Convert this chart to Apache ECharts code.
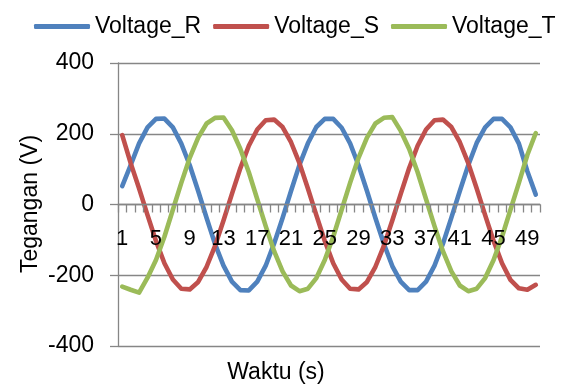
<!DOCTYPE html>
<html>
<head>
<meta charset="utf-8">
<script src="https://cdn.jsdelivr.net/npm/echarts@6/dist/echarts.min.js"></script>
<style>
html,body{margin:0;padding:0;background:#fff;}
#c{width:567px;height:385px;}
</style>
</head>
<body>
<div id="c"></div>
<script>
var categories = ["1","2","3","4","5","6","7","8","9","10","11","12","13","14","15","16","17","18","19","20","21","22","23","24","25","26","27","28","29","30","31","32","33","34","35","36","37","38","39","40","41","42","43","44","45","46","47","48","49","50"];
var voltageR = [52,111,173,218,242,243,218,172,111,38,-38,-112,-173,-218,-242,-243,-218,-173,-110,-38,38,112,173,219,242,242,217,173,111,38,-38,-111,-174,-218,-242,-242,-218,-173,-111,-37,38,111,174,218,242,242,218,172,94,28];
var voltageS = [196,117,45,-30,-103,-166,-212,-238,-240,-219,-176,-117,-45,30,103,166,212,238,240,219,176,117,45,-30,-103,-166,-212,-238,-240,-219,-176,-117,-45,30,103,166,212,238,240,219,176,117,45,-30,-103,-166,-213,-237,-241,-227];
var voltageT = [-232,-241,-249,-207,-157,-91,-15,61,132,189,229,245,246,210,157,91,15,-61,-132,-189,-229,-245,-238,-208,-157,-91,-15,61,132,189,229,245,247,208,157,91,15,-61,-132,-189,-229,-245,-238,-208,-157,-91,-15,61,140,202];
var yTicks = {min:-400, max:400, step:200};
var seriesNames = ["Voltage_R","Voltage_S","Voltage_T"];
var xTitle = "Waktu (s)";
var yTitle = "Tegangan (V)";

var FONT = "Liberation Sans";
var colors = ["#4F81BD","#C0504D","#9BBB59"];
var chart = echarts.init(document.getElementById('c'), null, {renderer:'canvas'});
function mk(name, data, color){
  return {
    name: name, type:'line', data: data, showSymbol:false, symbol:'none',
    smooth:false, animation:false, z:2,
    lineStyle:{color:color, width:4.6, join:'round', cap:'round'},
    itemStyle:{color:color}
  };
}
var gridTop = 63, gridBottom = 39, H = 385;
var plotH = H - gridTop - gridBottom;
var zeroOffset = -plotH / 2;
chart.setOption({
  animation:false,
  color: colors,
  textStyle:{fontFamily:FONT},
  legend:{
    data: seriesNames, left:34, top:15, padding:0,
    itemWidth:56, itemHeight:5, itemGap:12, icon:'roundRect',
    textStyle:{fontFamily:FONT, fontSize:23, color:'#000'}
  },
  grid:{left:118, right:27, top:gridTop, bottom:gridBottom, containLabel:false},
  xAxis:{
    type:'category', data: categories, boundaryGap:true, z:3,
    position:'bottom', offset: zeroOffset,
    axisLine:{onZero:false, lineStyle:{color:'#868686', width:1.3}},
    axisTick:{show:true, interval:0, length:8, inside:false, lineStyle:{color:'#868686', width:1.3}},
    axisLabel:{interval:3, fontFamily:FONT, fontSize:22, color:'#000', margin:23, hideOverlap:false},
    splitLine:{show:false}
  },
  yAxis:{
    type:'value', min:yTicks.min, max:yTicks.max, interval:yTicks.step,
    axisLine:{show:true, lineStyle:{color:'#868686', width:1.3}},
    axisTick:{show:true, length:8, lineStyle:{color:'#868686', width:1.3}},
    axisLabel:{fontFamily:FONT, fontSize:23, color:'#000', margin:24},
    splitLine:{show:true, lineStyle:{color:'#868686', width:1.3}}
  },
  graphic:[
    {type:'text', x:276, y:373, style:{text:xTitle, fontFamily:FONT, fontSize:23, fill:'#000', textAlign:'center', textVerticalAlign:'middle'}},
    {type:'text', x:31, y:204, rotation:Math.PI/2, style:{text:yTitle, fontFamily:FONT, fontSize:23, fill:'#000', textAlign:'center', textVerticalAlign:'middle'}}
  ],
  series:[
    mk(seriesNames[0], voltageR, colors[0]),
    mk(seriesNames[1], voltageS, colors[1]),
    mk(seriesNames[2], voltageT, colors[2])
  ]
});
</script>
</body>
</html>
